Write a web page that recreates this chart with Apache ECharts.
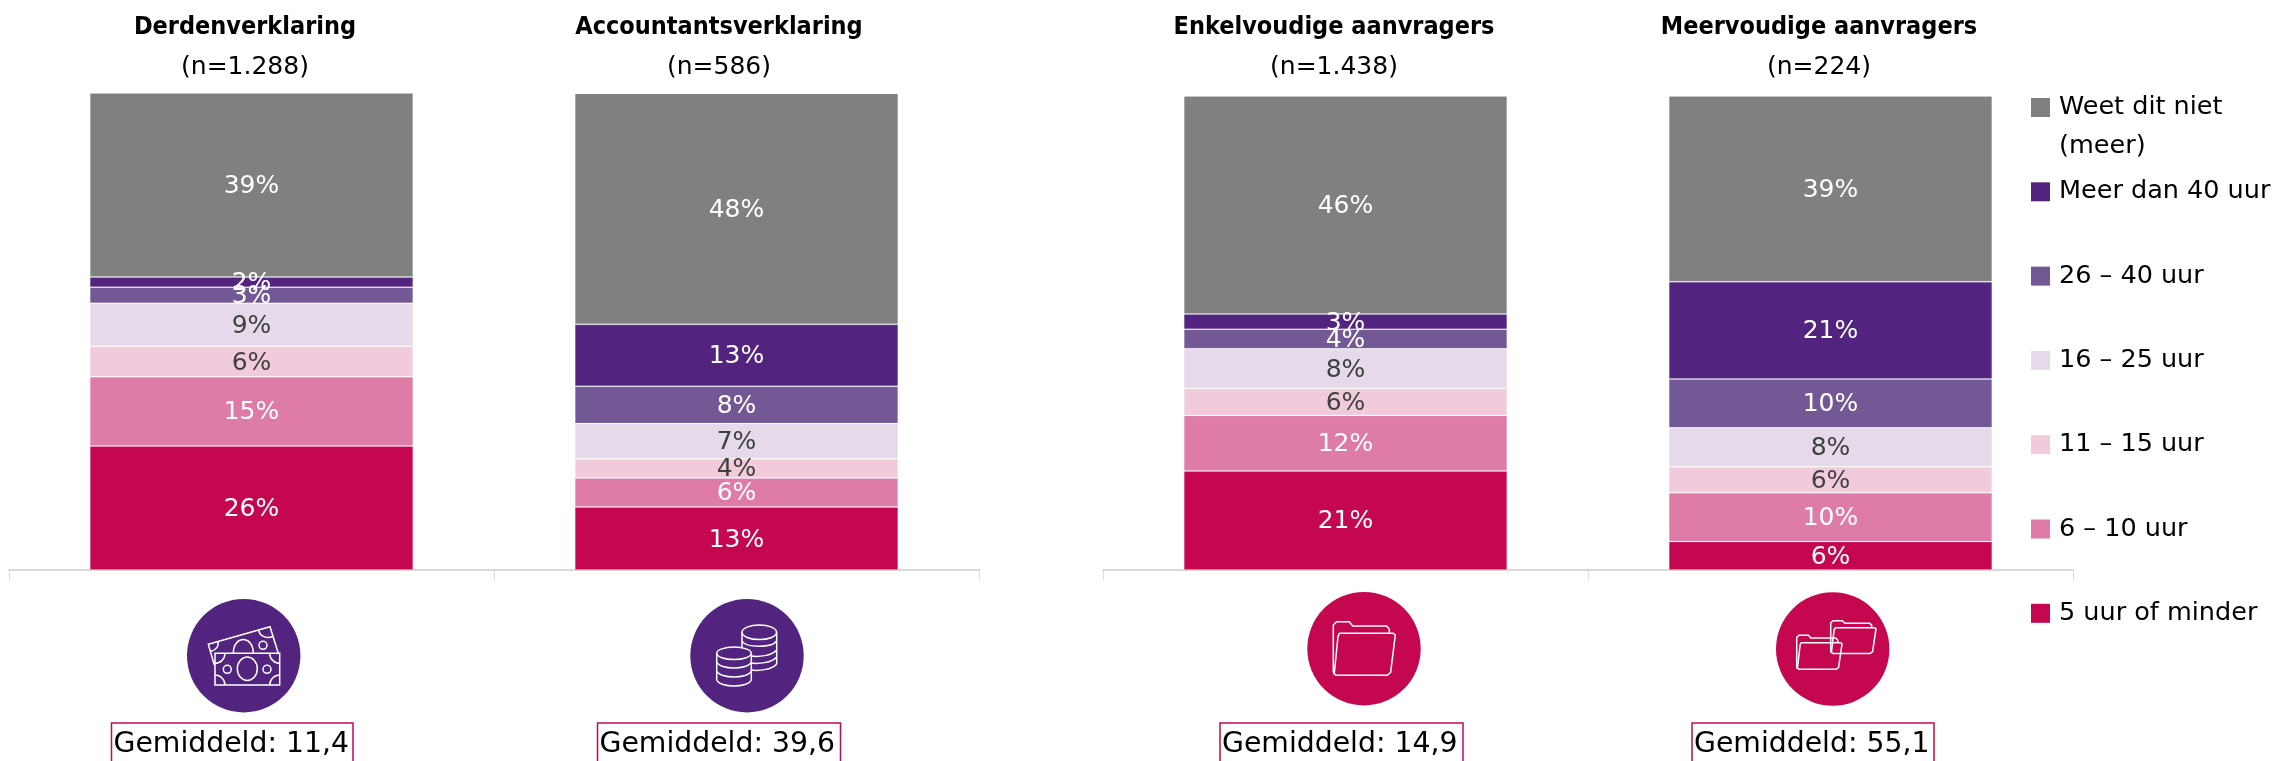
<!DOCTYPE html>
<html>
<head>
<meta charset="utf-8">
<title>Uren per verklaring en aanvrager</title>
<style>
    html, body { margin: 0; padding: 0; background: #fff; }
    #chart { width: 2278px; height: 761px; }
</style>
<script src="https://cdn.jsdelivr.net/npm/echarts@6/dist/echarts.min.js"></script>
</head>
<body>
<div id="chart"></div>
<script>
var titles = ['Derdenverklaring', 'Accountantsverklaring', 'Enkelvoudige aanvragers', 'Meervoudige aanvragers']
var counts = ['(n=1.288)', '(n=586)', '(n=1.438)', '(n=224)']
var averages = ['11,4', '39,6', '14,9', '55,1']

var segmentNames = ['5 uur of minder', '6 – 10 uur', '11 – 15 uur', '16 – 25 uur', '26 – 40 uur', 'Meer dan 40 uur', 'Weet dit niet (meer)']

// one value per bar
var uur5 = [26.0, 13.2, 20.9, 6.0]
var uur6 = [14.5, 6.1, 11.7, 10.3]
var uur11 = [6.4, 4.0, 5.7, 5.5]
var uur16 = [9.0, 7.4, 8.4, 8.2]
var uur26 = [3.4, 7.8, 4.1, 10.3]
var uur40 = [2.1, 13.0, 3.2, 20.5]
var weetNiet = [38.6, 48.4, 46.0, 39.2]

var segmentValues = [uur5, uur6, uur11, uur16, uur26, uur40, weetNiet]
var segmentColors = ['#c5074f', '#de7ca7', '#f1cbdc', '#e5d9ea', '#725995', '#52247f', '#808080']
var labelColors = ['#fff', '#fff', '#404040', '#404040', '#fff', '#fff', '#fff']

var fontFamily = '"DejaVu Sans", sans-serif'
var titleFont = 'bold 25px "DejaVu Sans Condensed", "Open Sans", sans-serif'
var purple = '#52247f'
var red = '#c5074f'

// layout of the things around the bars
var titleCenters = [245, 719, 1334, 1819]
var boxes = [[111.5, 241.5], [597.5, 243], [1220, 243], [1692, 242]]

var series = []
segmentNames.forEach(function (name, s) {
    [0, 1].forEach(function (group) {
        series.push({
            name: name,
            type: 'bar',
            stack: 'group' + group,
            xAxisIndex: group,
            yAxisIndex: group,
            barWidth: '66.7%',
            data: segmentValues[s].slice(group * 2, group * 2 + 2),
            itemStyle: {
                color: segmentColors[s],
                borderColor: 'rgba(255,255,255,0.12)',
                borderWidth: 1,
            },
            label: {
                show: true,
                position: 'inside',
                offset: [0, 1.5],
                color: labelColors[s],
                fontFamily: fontFamily,
                fontSize: 25,
                formatter: function (p) { return Math.round(p.value) + '%' },
            },
        })
    })
})

function xAxis(gridIndex, data) {
    return {
        type: 'category',
        gridIndex: gridIndex,
        data: data,
        axisLine: { lineStyle: { color: '#d9d9d9', width: 2 } },
        axisTick: { show: true, length: 10, lineStyle: { color: '#d9d9d9', width: 1 } },
        axisLabel: { show: false },
    }
}

function yAxis(gridIndex) {
    return { type: 'value', gridIndex: gridIndex, min: 0, max: 100, show: false, splitLine: { show: false } }
}

function text(str, x, y, size, extra) {
    return {
        type: 'text',
        silent: true,
        style: Object.assign({
            text: str,
            x: x,
            y: y,
            fill: '#000',
            font: size + 'px ' + fontFamily,
            textAlign: 'center',
            textVerticalAlign: 'middle',
        }, extra || {}),
    }
}

var line = { stroke: '#fff', lineWidth: 1.5, fill: null }

function stroke(type, shape) {
    return { type: type, silent: true, shape: shape, style: line }
}

function disc(x, y, color) {
    return { type: 'circle', silent: true, shape: { cx: x, cy: y, r: 56.7 }, style: { fill: color } }
}

function curve(x1, y1, cx1, cy1, cx2, cy2, x2, y2) {
    return stroke('bezierCurve', { x1: x1, y1: y1, cpx1: cx1, cpy1: cy1, cpx2: cx2, cpy2: cy2, x2: x2, y2: y2 })
}

function notesIcon() {
    return [
        disc(243.7, 655.7, purple),
        stroke('polyline', { points: [[214.3, 665], [208.3, 644.3], [270, 626.7], [278.3, 653.3]] }),
        curve(233.3, 653.3, 233.3, 635, 253.3, 635, 253.3, 653.3),
        stroke('circle', { cx: 263, cy: 645.3, r: 4 }),
        curve(218, 641.5, 219, 647, 216, 650, 210.5, 651.5),
        curve(258.5, 630, 260, 636, 265, 639, 273, 636.5),
        stroke('rect', { x: 215, y: 653.3, width: 64.7, height: 31.7 }),
        stroke('ellipse', { cx: 247.3, cy: 668.7, rx: 10, ry: 11.7 }),
        stroke('circle', { cx: 227.3, cy: 669.3, r: 4 }),
        stroke('circle', { cx: 267, cy: 669.3, r: 4 }),
        stroke('arc', { cx: 215, cy: 653.3, r: 10, startAngle: 0, endAngle: Math.PI / 2, clockwise: true }),
        stroke('arc', { cx: 279.7, cy: 653.3, r: 10, startAngle: Math.PI / 2, endAngle: Math.PI, clockwise: true }),
        stroke('arc', { cx: 215, cy: 685, r: 10, startAngle: -Math.PI / 2, endAngle: 0, clockwise: true }),
        stroke('arc', { cx: 279.7, cy: 685, r: 10, startAngle: Math.PI, endAngle: Math.PI * 1.5, clockwise: true }),
    ]
}

function coinsIcon() {
    var out = [
        disc(747, 655.7, purple),
        stroke('ellipse', { cx: 759.3, cy: 632.3, rx: 17.3, ry: 7.3 }),
        stroke('line', { x1: 742, y1: 632.3, x2: 742, y2: 647 }),
        stroke('line', { x1: 776.7, y1: 632.3, x2: 776.7, y2: 664 }),
        stroke('ellipse', { cx: 734, cy: 653.3, rx: 17.3, ry: 6.3 }),
        stroke('line', { x1: 716.7, y1: 653.3, x2: 716.7, y2: 680 }),
        stroke('line', { x1: 751.3, y1: 653.3, x2: 751.3, y2: 680 }),
    ]
    out.push(curve(742, 641, 746, 648, 772, 648, 776.7, 641))
    var rightBands = [650, 657, 664]
    rightBands.forEach(function (y) {
        out.push(curve(751.3, y + 6, 758, y + 7, 772, y + 6, 776.7, y))
    })
    var leftBands = [662, 671, 680]
    leftBands.forEach(function (y) {
        out.push(curve(716.7, y, 720, y + 8, 748, y + 8, 751.3, y))
    })
    return out
}

function folder(x, y, sx, sy) {
    function scaled(points) {
        return points.map(function (p) { return [x + p[0] * sx, y + p[1] * sy] })
    }
    var back = [[3, 158], [0, 150], [0, 10], [10, 0], [48, 0], [58, 13], [160, 13], [168, 22], [168, 33]]
    var front = [[18, 35], [180, 35], [186, 40], [172, 152], [162, 161], [8, 161], [3, 155], [14, 45], [18, 35]]
    return [stroke('polyline', { points: scaled(back) }), stroke('polyline', { points: scaled(front) })]
}

function plainFolderIcon() {
    return [disc(1364, 648.7, red)].concat(folder(1333.3, 621.7, 1 / 3, 1 / 3))
}

function doubleFolderIcon() {
    return [disc(1832.7, 649, red)]
        .concat(folder(1830.7, 620.7, 0.2437, 0.203))
        .concat(folder(1796.7, 635.3, 0.2437, 0.211))
}

var graphicElements = []
    .concat(notesIcon(), coinsIcon(), plainFolderIcon(), doubleFolderIcon())

titles.forEach(function (title, i) {
    graphicElements.push(text(title, titleCenters[i], 27, 25, { font: titleFont }))
    graphicElements.push(text(counts[i], titleCenters[i], 67, 25))
    graphicElements.push({
        type: 'rect',
        silent: true,
        shape: { x: boxes[i][0], y: 723, width: boxes[i][1], height: 60 },
        style: { fill: null, stroke: red, lineWidth: 1.5 },
    })
    graphicElements.push(text('Gemiddeld: ' + averages[i], boxes[i][0] + 2, 745, 28.3, { textAlign: 'left' }))
})
graphicElements.push(text('(meer)', 2059, 146, 25.5, { textAlign: 'left' }))

var chart = echarts.init(document.getElementById('chart'))
chart.setOption({
    animation: false,
    textStyle: { fontFamily: fontFamily },
    grid: [
        { left: 9, top: 93, width: 970, height: 477 },
        { left: 1103, top: 96, width: 970, height: 474 },
    ],
    xAxis: [xAxis(0, titles.slice(0, 2)), xAxis(1, titles.slice(2, 4))],
    yAxis: [yAxis(0), yAxis(1)],
    legend: {
        orient: 'vertical',
        left: 2031,
        top: 92.5,
        itemWidth: 19,
        itemHeight: 19,
        itemGap: 54.3,
        icon: 'rect',
        selectedMode: false,
        padding: 0,
        data: segmentNames.slice().reverse(),
        formatter: function (name) { return name.replace(' (meer)', '') },
        textStyle: {
            color: '#000',
            fontFamily: fontFamily,
            fontSize: 25.5,
            lineHeight: 26,
            padding: [0, 0, 4, 4],
        },
        itemStyle: { borderWidth: 0 },
    },
    series: series,
    graphic: { elements: graphicElements },
})
</script>
</body>
</html>
